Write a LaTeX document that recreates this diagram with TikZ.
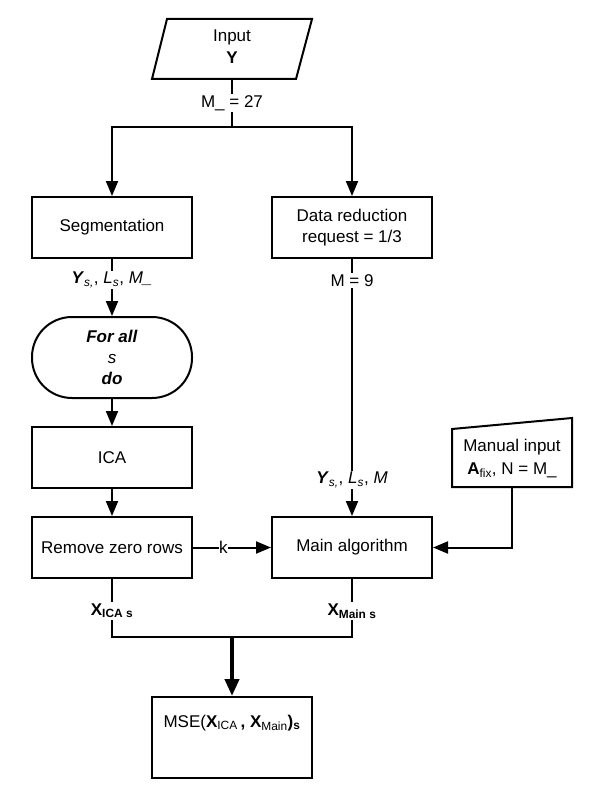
\documentclass[tikz,border=0pt]{standalone}
\usepackage{fontspec}
\setmainfont{Liberation Sans}
\usetikzlibrary{arrows.meta}
\begin{document}
\begin{tikzpicture}[x=1pt,y=-1pt,line width=2pt,
                font=\fontsize{17}{21}\selectfont,
                box/.style={draw,minimum width=160pt,minimum height=61pt,align=center,inner sep=2pt},
                lbl/.style={fill=white,inner sep=1.5pt},
                arr/.style={-{Triangle[length=15pt,width=12pt]}},
                bigarr/.style={line width=4pt,-{Triangle[length=17pt,width=14pt]}}]
                \useasboundingbox (0,0) rectangle (608,797);
                \draw (152,79) -- (167,19) -- (312,19) -- (296,79) -- cycle;
                \node[align=center] (input) at (232,47) {Input\\[1pt]\textbf{Y}};
                \coordinate (inb) at (232,79);
                \coordinate (split) at (232,127);
                \node[box] (seg) at (112,227.5) {Segmentation};
                \node[box] (red) at (352,227.5) {Data reduction\\request = 1/3};
                \node[box,minimum height=81pt,rounded corners=40pt] (forall) at (112,357.5)
                    {\textbf{\textit{For all}}\\\textit{s}\\\textbf{\textit{do}}};
                \node[box] (ica) at (112,457.5) {ICA};
                \node[box] (rzr) at (112,547.5) {Remove zero rows};
                \node[box] (main) at (352,547.5) {Main algorithm};
                \draw (452,429) -- (572,418) -- (572,487) -- (452,487) -- cycle;
                \node[align=center] (manual) at (512,459) {Manual input\\[2pt]\textbf{A}\textsubscript{fix}, N = M\_};
                \coordinate (manb) at (512,487);
                \coordinate (joinl) at (112,637);
                \coordinate (joinr) at (352,637);
                \coordinate (join) at (232,637);
                \node[draw,minimum width=160pt,minimum height=81pt] (mse) at (232,737.5) {};
                \node (msetext) at (232,723) {MSE(\textbf{X}\textsubscript{ICA}\,\textbf{, X}\textsubscript{Main}\textbf{)\textsubscript{s}}};
                \draw (inb) -- node[lbl]{M\_ = 27} (split);
                \draw[arr] (split) -| (seg);
                \draw[arr] (split) -| (red);
                \draw[arr] (seg) -- node[lbl,pos=0.37]{\textbf{\textit{Y}}\textit{\textsubscript{s,}}, \textit{L\textsubscript{s}}, \textit{M\_}} (forall);
                \draw[arr] (red) -- node[lbl,pos=0.085]{M = 9}
                    node[lbl,pos=0.86]{\textbf{\textit{Y}}\textit{\textsubscript{s,}}, \textit{L\textsubscript{s}}, \textit{M}} (main);
                \draw[arr] (forall) -- (ica);
                \draw[arr] (ica) -- (rzr);
                \draw[arr] (rzr) -- node[lbl,pos=0.39,inner sep=0.5pt]{k} (main);
                \draw[arr] (manb) |- (main);
                \draw (rzr) -- node[lbl,pos=0.55]{\textbf{X\textsubscript{ICA s}}} (joinl) -- (joinr)
                    -- node[lbl,pos=0.45]{\textbf{X\textsubscript{Main s}}} (main);
                \draw[bigarr] (join) -- (mse);
            \end{tikzpicture}
\end{document}
